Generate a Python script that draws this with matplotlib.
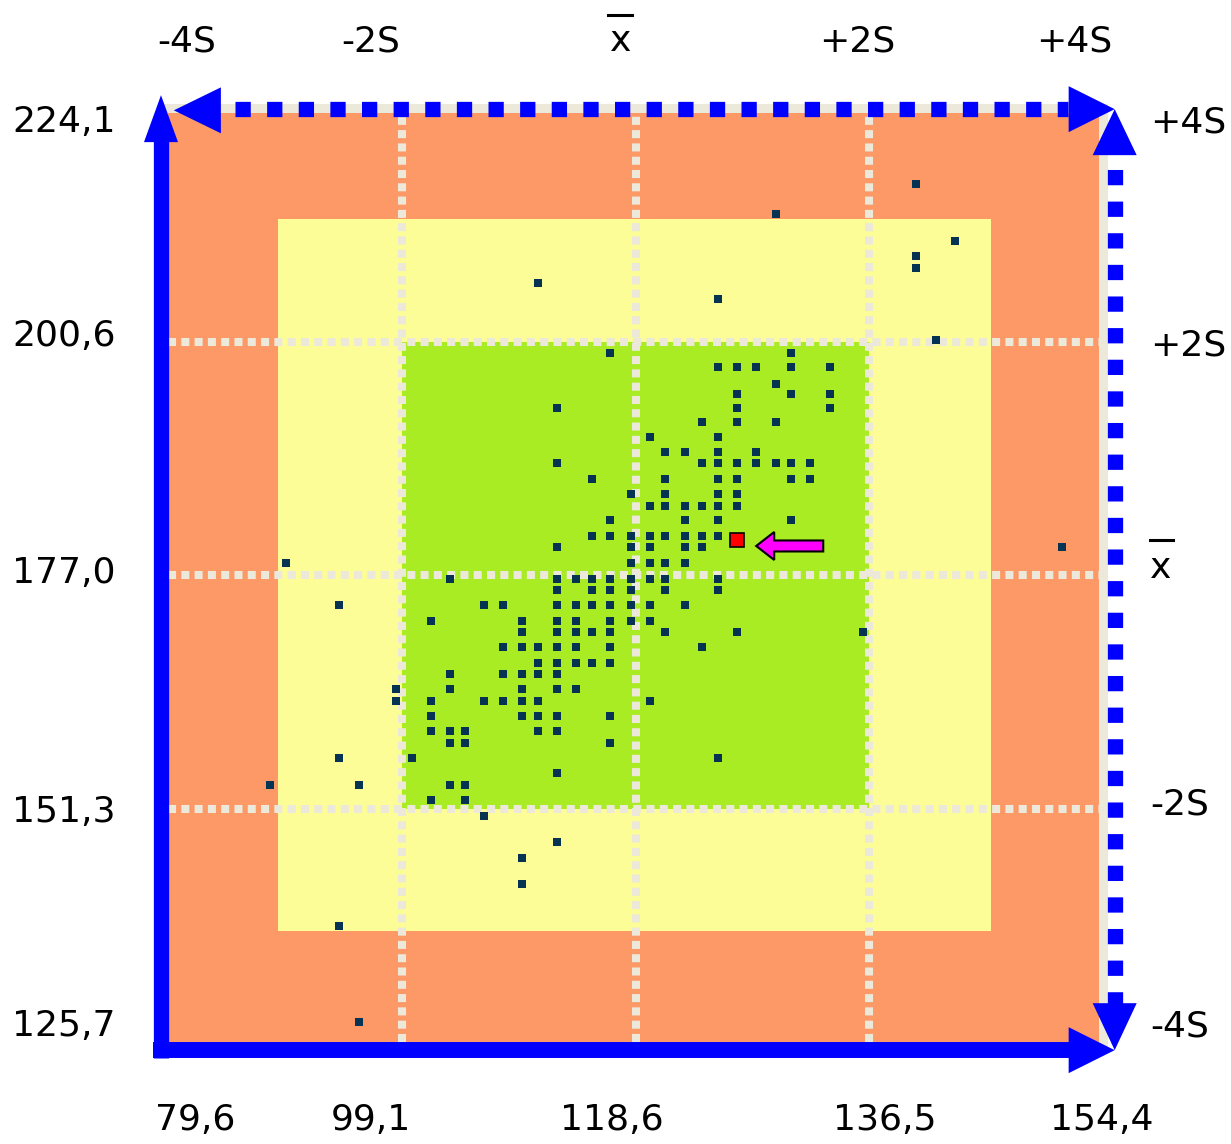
import numpy as np
import matplotlib
matplotlib.use("Agg")
from matplotlib import pyplot as plt
from matplotlib.patches import Rectangle, Polygon, FancyArrow

# Point cloud in S units (distance from the mean in standard deviations).
# One entry of rows_y per horizontal row of markers, rows_x holds the x values of that row.
rows_y = [3.35, 3.09, 2.86, 2.73, 2.63, 2.50, 2.36, 2.01, 1.90, 1.78, 1.64, 1.55, 1.43, 1.31,
          1.18, 1.05, 0.96, 0.82, 0.69, 0.59, 0.47, 0.33, 0.24, 0.10, -0.03, -0.13, -0.26,
          -0.39, -0.49, -0.62, -0.75, -0.85, -0.98, -1.08, -1.21, -1.34, -1.44, -1.57, -1.70,
          -1.80, -1.93, -2.06, -2.29, -2.42, -2.65, -3.01, -3.83]
rows_x = [
    [2.40], [1.20], [2.73], [2.40], [2.40], [-0.83], [0.71], [2.57],
    [-0.22, 1.33],
    [0.71, 0.87, 1.03, 1.33, 1.66],
    [1.20],
    [0.87, 1.33, 1.66],
    [-0.67, 0.87, 1.66],
    [0.57, 0.87, 1.20],
    [0.12, 0.71],
    [0.25, 0.42, 0.71, 1.03],
    [-0.67, 0.57, 0.71, 0.87, 1.03, 1.20, 1.33, 1.49],
    [-0.37, 0.25, 0.71, 0.87, 1.33, 1.49],
    [-0.04, 0.25, 0.71, 0.87],
    [0.12, 0.25, 0.42, 0.57, 0.71, 0.87],
    [-0.22, 0.42, 0.71, 1.33],
    [-0.37, -0.22, -0.04, 0.12, 0.25, 0.42, 0.57, 0.71],
    [-0.67, -0.04, 0.12, 0.42, 0.57, 3.65],
    [-2.99, -0.04, 0.12, 0.25, 0.42],
    [-1.59, -0.67, -0.51, -0.37, -0.22, -0.04, 0.12, 0.25, 0.71],
    [-0.67, -0.37, -0.22, -0.04, 0.25, 0.71],
    [-2.54, -1.30, -1.13, -0.67, -0.51, -0.37, -0.22, -0.04, 0.12, 0.42],
    [-1.75, -0.97, -0.67, -0.51, -0.22, -0.04, 0.12],
    [-0.97, -0.67, -0.51, -0.37, -0.22, 0.25, 0.87, 1.95],
    [-1.13, -0.97, -0.83, -0.67, -0.51, -0.22, 0.57],
    [-0.83, -0.67, -0.51, -0.37, -0.22],
    [-1.59, -1.13, -0.97, -0.83, -0.67],
    [-2.05, -1.59, -0.97, -0.67, -0.51],
    [-2.05, -1.75, -1.30, -1.13, -0.97, -0.83, 0.12],
    [-1.75, -0.97, -0.83, -0.67, -0.22],
    [-1.75, -1.59, -1.46, -0.83, -0.67],
    [-1.59, -1.46, -0.22],
    [-2.54, -1.91, 0.71],
    [-0.67],
    [-3.13, -2.37, -1.59, -1.46],
    [-1.75, -1.46],
    [-1.30], [-0.67], [-0.97], [-0.97], [-2.54], [-2.37],
]

# the highlighted (current) point
current_x = 0.87
current_y = 0.30

# axis labels
x_values = ['79,6', '99,1', '118,6', '136,5', '154,4']
y_values = ['224,1', '200,6', '177,0', '151,3', '125,7']
s_labels = ['-4S', '-2S', 'x', '+2S', '+4S']

ORANGE = '#FD9966'
YELLOW = '#FDFD98'
GREEN = '#A9EC24'
GRID = '#ECE8DA'
BLUE = '#0000FF'
DOT = '#073352'

PX = 1 / 116.8  # one pixel in data units

xs = np.concatenate([np.asarray(r, float) for r in rows_x])
ys = np.concatenate([np.full(len(r), y) for r, y in zip(rows_x, rows_y)])

fig = plt.figure(figsize=(12.31, 11.44), dpi=100)
ax = fig.add_axes([168 / 1231, 102 / 1144, 935 / 1231, 934 / 1144])
ax.set_xlim(-4, 4)
ax.set_ylim(-4, 4)
ax.set_xticks([])
ax.set_yticks([])
for side in ['left', 'bottom']:
    ax.spines[side].set_visible(False)
for side in ['top', 'right']:
    ax.spines[side].set_color(GRID)
    ax.spines[side].set_linewidth(6.5)

# zones
ax.add_patch(Rectangle((-4, -4), 8, 8, color=ORANGE, lw=0, zorder=0))
ax.add_patch(Rectangle((-3.06, -3.05), 6.1, 6.1, color=YELLOW, lw=0, zorder=0.5))
ax.add_patch(Rectangle((-2, -2), 4, 4, color=GREEN, lw=0, zorder=1))

# dotted grid at mean and +-2S
for g in [-2, 0, 2]:
    ax.plot([g, g], [-4, 4], color=GRID, lw=5.8, dashes=(1, 0.65), zorder=2)
    ax.plot([-4, 4], [g, g], color=GRID, lw=5.8, dashes=(1, 0.65), zorder=2)

ax.plot(xs, ys, ls='none', marker='s', ms=6.2, mew=0, color=DOT, zorder=3)
ax.plot([current_x], [current_y], ls='none', marker='s', ms=10.5, mew=1.2,
        mfc='#FF0000', mec='black', zorder=4)
ax.add_patch(FancyArrow(current_x + 86 * PX, current_y - 6 * PX, -67 * PX, 0,
                        width=11 * PX, head_width=28 * PX, head_length=18 * PX,
                        length_includes_head=True, fc='#FF00FF', ec='black', lw=1.5, zorder=5))


def head(tip, direction, length, half):
    tx, ty = tip
    dx, dy = direction
    bx, by = tx - dx * length, ty - dy * length
    px, py = -dy * half, dx * half
    ax.add_patch(Polygon([(tx, ty), (bx + px, by + py), (bx - px, by - py)], closed=True,
                         color=BLUE, lw=0, clip_on=False, zorder=7))


L = -4.06  # left solid axis
B = -4.07  # bottom solid axis
R = 4.10   # right dotted axis
T = 3.99   # top dotted axis

# solid axes (left, bottom)
ax.plot([L, L], [B - 8 * PX, 3.8], color=BLUE, lw=11, solid_capstyle='butt', clip_on=False, zorder=6)
ax.plot([L - 8 * PX, 3.8], [B, B], color=BLUE, lw=11.5, solid_capstyle='butt', clip_on=False, zorder=6)
head((L, 4.11), (0, 1), 47 * PX, 17 * PX)
head((R, B), (1, 0), 46 * PX, 23 * PX)

# dotted axes (top, right)
ax.plot([-3.43, 3.7], [T, T], color=BLUE, lw=11, dashes=(1, 1.07), clip_on=False, zorder=6)
ax.plot([R, R], [-3.7, 3.6], color=BLUE, lw=11, dashes=(1, 1.07), clip_on=False, zorder=6)
head((-3.95, 3.98), (-1, 0), 47 * PX, 23 * PX)
head((R, T), (1, 0), 46 * PX, 23 * PX)
head((R, T), (0, 1), 46 * PX, 22 * PX)
head((R, B), (0, -1), 47 * PX, 22 * PX)

# labels
font = dict(fontsize=26, family='DejaVu Sans', color='black')
top_pos = [-3.84, -2.27, -0.13, 1.90, 3.75]
for lab, u in zip(s_labels, top_pos):
    ax.text(u, 4.57, lab, ha='center', va='center', clip_on=False, **font)

bottom_pos = [-3.77, -2.26, -0.20, 2.13, 3.99]
for lab, u in zip(x_values, bottom_pos):
    ax.text(u, -4.67, lab, ha='center', va='center', clip_on=False, **font)

left_pos = [3.88, 2.05, 0.02, -2.03, -3.86]
for lab, v in zip(y_values, left_pos):
    ax.text(-4.45, v, lab, ha='right', va='center', clip_on=False, **font)

right_pos = [3.88, 1.97, 0.06, -1.97, -3.87]
for lab, v in zip(s_labels[::-1], right_pos):
    ax.text(4.40, v, lab, ha='left', va='center', clip_on=False, **font)

# overline of the mean symbol
ax.plot([-0.235, -0.03], [4.80, 4.80], color='black', lw=2.2, clip_on=False)
ax.plot([4.40, 4.60], [0.30, 0.30], color='black', lw=2.2, clip_on=False)

fig.savefig('out.png', dpi=100)
